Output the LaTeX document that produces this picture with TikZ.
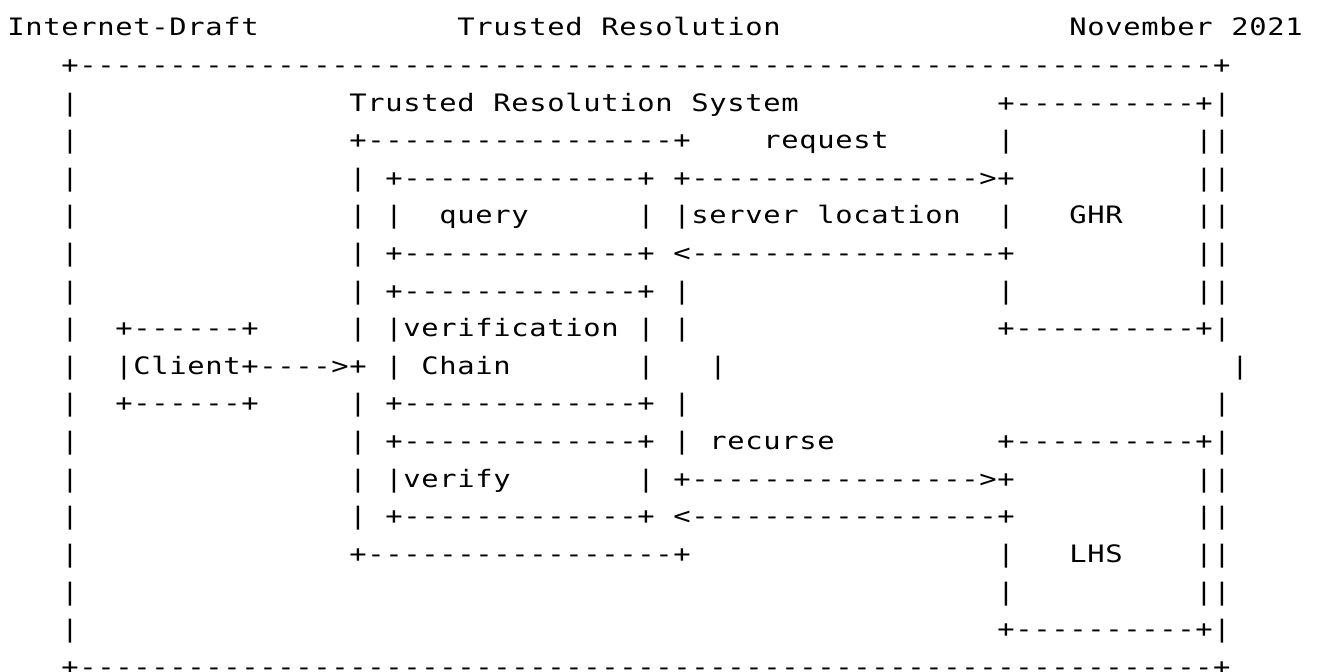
\documentclass[tikz,border=0pt]{standalone}
\usepackage{fontspec}
\setmonofont[FakeStretch=1.2]{DejaVu Sans Mono}
\usepackage{tikz}

\newcommand{\asciifont}{\ttfamily\fontsize{12}{14}\selectfont}
\newlength{\cellw}
\setlength{\cellw}{9pt}
\newcommand{\cells}[1]{\cellsloop#1\relax}
\def\cellsloop#1{\ifx#1\relax\else\makebox[\cellw][c]{#1}\expandafter\cellsloop\fi}
\newcommand{\dashrun}[1]{\foreach \i in {1,...,#1}{\makebox[\cellw][c]{-}}}
\newcommand{\boxedge}[1]{\cells{+}\dashrun{#1}\cells{+}}

\begin{document}
\begin{tikzpicture}[x=9pt,y=-18.8pt,
  txt/.style={anchor=base west,inner sep=0pt,outer sep=0pt,font=\asciifont}]
\useasboundingbox (-0.389,-0.957) rectangle (73.11,16.915);

% page header
\node[txt] (draft) at (0,0) {\cells{Internet-Draft}};
\node[txt] (doctitle) at (25,0) {\cells{Trusted~Resolution}};
\node[txt] (date) at (59,0) {\cells{November~2021}};

% outer frame
\node[txt] (frametop) at (3,1) {\boxedge{63}};
\node[txt] (framebot) at (3,17) {\boxedge{63}};
\foreach \r in {2,...,16} \node[txt] at (3,\r) {\cells{|}};
\foreach \r in {2,3,4,5,6,7,8,10,11,12,13,14,15,16} \node[txt] at (67,\r) {\cells{|}};
\node[txt] at (68,9) {\cells{|}};

% trusted resolution system
\node[txt] (sysname) at (19,2) {\cells{Trusted~Resolution~System}};
\node[txt] (systop) at (19,3) {\boxedge{17}};
\node[txt] (sysbot) at (19,14) {\boxedge{17}};
\foreach \r in {4,5,6,7,8,10,11,12,13} \node[txt] at (19,\r) {\cells{|}};
\foreach \r in {5,7,8,10,11} \node[txt] at (37,\r) {\cells{|}};
\node[txt] at (39,9) {\cells{|}};

% inner boxes
\foreach \r in {4,6,7,10,11,13} \node[txt] at (21,\r) {\boxedge{13}};
\foreach \r in {5,8,9,12} {
  \node[txt] at (21,\r) {\cells{|}};
  \node[txt] at (35,\r) {\cells{|}};
}
\node[txt] (query) at (24,5) {\cells{query}};
\node[txt] (verif) at (22,8) {\cells{verification}};
\node[txt] (chain) at (23,9) {\cells{Chain}};
\node[txt] (verify) at (22,12) {\cells{verify}};

% client
\node[txt] at (6,8) {\boxedge{6}};
\node[txt] at (6,10) {\boxedge{6}};
\node[txt] at (6,9) {\cells{|}};
\node[txt] (client) at (7,9) {\cells{Client}};
\node[txt] (clientarr) at (13,9) {\cells{+}\dashrun{4}\cells{>+}};

% GHR and LHS
\foreach \r in {2,8,11,16} \node[txt] at (55,\r) {\boxedge{10}};
\foreach \r in {3,5,7,14,15} \node[txt] at (55,\r) {\cells{|}};
\foreach \r in {3,4,5,6,7,12,13,14,15} \node[txt] at (66,\r) {\cells{|}};
\node[txt] (ghr) at (59,5) {\cells{GHR}};
\node[txt] (lhs) at (59,14) {\cells{LHS}};

% messages
\node[txt] (reqarr) at (37,4) {\cells{+}\dashrun{16}\cells{>+}};
\node[txt] (locarr) at (37,6) {\cells{<}\dashrun{17}\cells{+}};
\node[txt] (recarr) at (37,12) {\cells{+}\dashrun{16}\cells{>+}};
\node[txt] (retarr) at (37,13) {\cells{<}\dashrun{17}\cells{+}};
\node[txt] (request) at (42,3) {\cells{request}};
\node[txt] (serverloc) at (38,5) {\cells{server~location}};
\node[txt] (recurse) at (39,11) {\cells{recurse}};
\end{tikzpicture}
\end{document}
